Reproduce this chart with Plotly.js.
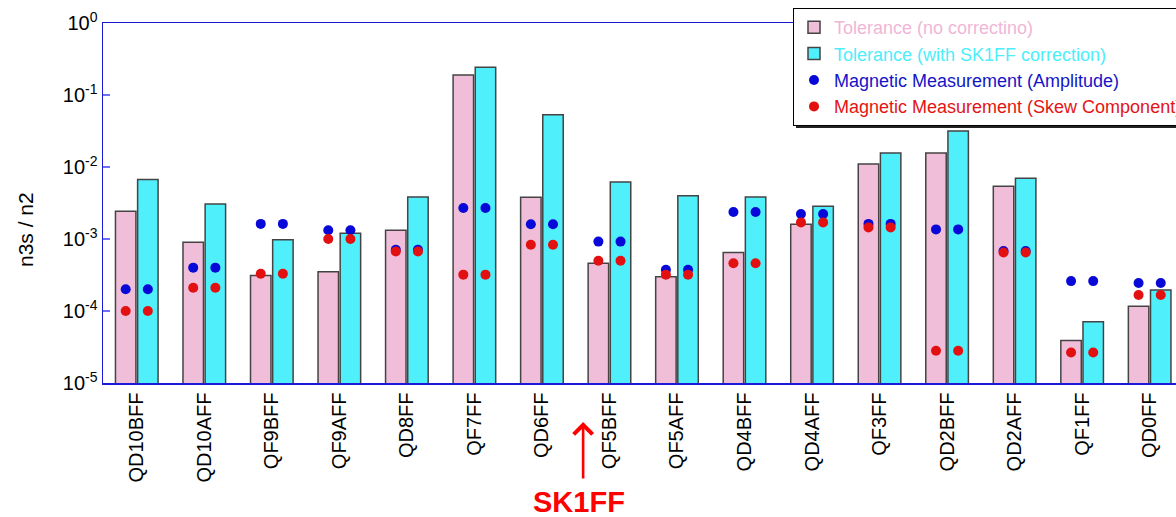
<!DOCTYPE html>
<html>
<head>
<meta charset="utf-8">
<script src="https://cdn.plot.ly/plotly-3.0.1.min.js"></script>
<style>
  html, body { margin: 0; padding: 0; background: #ffffff; }
  #chart { width: 1176px; height: 517px; }
</style>
</head>
<body>
<div id="chart"></div>
<script>
// Magnet names along the beamline
const magnets = ['QD10BFF', 'QD10AFF', 'QF9BFF', 'QF9AFF', 'QD8FF', 'QF7FF', 'QD6FF', 'QF5BFF',
                 'QF5AFF', 'QD4BFF', 'QD4AFF', 'QF3FF', 'QD2BFF', 'QD2AFF', 'QF1FF', 'QD0FF'];

// Skew sextupole tolerance (n3s / n2) without correction
const tolNoCorrection = [2.42e-3, 9.0e-4, 3.1e-4, 3.5e-4, 1.32e-3, 0.19, 3.8e-3, 4.6e-4,
                         3.0e-4, 6.5e-4, 1.6e-3, 0.011, 0.0156, 5.4e-3, 3.9e-5, 1.16e-4];

// Tolerance with the SK1FF corrector in use
const tolWithSK1FF = [6.7e-3, 3.06e-3, 9.8e-4, 1.2e-3, 3.83e-3, 0.242, 0.053, 6.2e-3,
                      4.0e-3, 3.83e-3, 2.84e-3, 0.0156, 0.0316, 7.0e-3, 7.1e-5, 1.96e-4];

// Measured values
const measAmplitude = [2.0e-4, 4.0e-4, 1.62e-3, 1.32e-3, 7.1e-4, 2.7e-3, 1.6e-3, 9.2e-4,
                       3.75e-4, 2.37e-3, 2.22e-3, 1.62e-3, 1.36e-3, 6.8e-4, 2.6e-4, 2.45e-4];
const measSkew = [1.0e-4, 2.1e-4, 3.3e-4, 1.0e-3, 6.7e-4, 3.2e-4, 8.3e-4, 5.0e-4,
                  3.2e-4, 4.6e-4, 1.7e-3, 1.45e-3, 2.8e-5, 6.5e-4, 2.65e-5, 1.67e-4];

// Decade ticks
const yTickVals = [1, 0.1, 0.01, 0.001, 1e-4, 1e-5];
const yTickText = ['10<sup>0</sup>', '10<sup>-1</sup>', '10<sup>-2</sup>', '10<sup>-3</sup>',
                   '10<sup>-4</sup>', '10<sup>-5</sup>'];

const FONT = 'Liberation Sans, Arial, sans-serif';
const W = 1176, H = 517;
const M = { l: 103, r: 0, t: 23, b: 134 };
const BARGAP = 0.344, BARGROUPGAP = 0.076;
const slot = (1 - BARGAP) / 2;          // width of one bar slot within a category
const idx = magnets.map((_, i) => i);

// pixel -> paper helpers for decorations
const plotW = W - M.l - M.r, plotH = H - M.t - M.b;
const px = x => (x - M.l) / plotW;
const py = y => (H - M.b - y) / plotH;

// the measurement is drawn over both bars of each magnet
const dotX = idx.map(i => i - slot / 2).concat(idx.map(i => i + slot / 2));
const dup = a => a.concat(a);

const traces = [
  {
    type: 'bar', x: idx, y: tolNoCorrection,
    name: '<span style="color:#f0b6d6">Tolerance (no correctino)</span>',
    marker: { color: '#f0bed9', line: { color: '#444444', width: 1.5 } }
  },
  {
    type: 'bar', x: idx, y: tolWithSK1FF,
    name: '<span style="color:#4ceefa">Tolerance (with SK1FF correction)</span>',
    marker: { color: '#50effc', line: { color: '#444444', width: 1.5 } }
  },
  {
    type: 'scatter', mode: 'markers', x: dotX, y: dup(measAmplitude),
    name: '<span style="color:#1414c8">Magnetic Measurement (Amplitude)</span>',
    marker: { color: '#0808d8', size: 10 }
  },
  {
    type: 'scatter', mode: 'markers', x: dotX, y: dup(measSkew),
    name: '<span style="color:#e41414">Magnetic Measurement (Skew Component)</span>',
    marker: { color: '#e21010', size: 10 }
  }
];

const layout = {
  width: W, height: H,
  margin: { l: M.l, r: M.r, t: M.t, b: M.b, pad: 0, autoexpand: false },
  paper_bgcolor: '#ffffff', plot_bgcolor: '#ffffff',
  font: { family: FONT, color: '#000000' },
  barmode: 'group', bargap: BARGAP, bargroupgap: BARGROUPGAP,
  showlegend: true,
  legend: {
    x: px(793), y: py(8), xanchor: 'left', yanchor: 'top',
    bgcolor: '#ffffff', bordercolor: '#000000', borderwidth: 1,
    font: { family: FONT, size: 18 }, tracegroupgap: 0, itemwidth: 30
  },
  xaxis: {
    range: [-0.5, 15.39], showgrid: false, zeroline: false,
    showline: true, linecolor: '#1a1ad8', linewidth: 1.5, mirror: true,
    tickmode: 'array', tickvals: idx, ticktext: magnets, tickangle: -90,
    ticks: '', tickfont: { family: FONT, size: 20, color: '#000000' }
  },
  yaxis: {
    type: 'log', range: [-5, 0], showgrid: false, zeroline: false,
    showline: true, linecolor: '#1a1ad8', linewidth: 1.5,
    tickmode: 'array', tickvals: yTickVals, ticktext: yTickText,
    ticks: 'inside', ticklen: 7, tickwidth: 2, tickcolor: '#6e6eff',
    tickfont: { family: FONT, size: 20, color: '#000000' }
  },
  shapes: [
    // drop shadow under the legend box
    { type: 'rect', xref: 'paper', yref: 'paper', layer: 'above',
      x0: px(796), x1: px(1190), y0: py(128), y1: py(14),
      fillcolor: '#222222', line: { width: 0 } }
  ],
  annotations: [
    { text: 'n3s / n2', xref: 'paper', yref: 'paper', x: px(26), y: py(230),
      xanchor: 'center', yanchor: 'middle', textangle: -90, showarrow: false,
      font: { family: FONT, size: 21, color: '#000000' } },
    { text: '', xref: 'x', yref: 'paper', x: 6.61, y: py(422),
      showarrow: true, ax: 0, ay: 58, arrowhead: 4, arrowsize: 1.4, arrowwidth: 2.6,
      arrowcolor: '#ff0000', standoff: 0 },
    { text: '<b>SK1FF</b>', xref: 'x', yref: 'paper', x: 6.55, y: py(502),
      xanchor: 'center', yanchor: 'middle', showarrow: false,
      font: { family: FONT, size: 29, color: '#ff0000' } }
  ]
};

Plotly.newPlot('chart', traces, layout, { displayModeBar: false, staticPlot: true });
</script>
</body>
</html>
